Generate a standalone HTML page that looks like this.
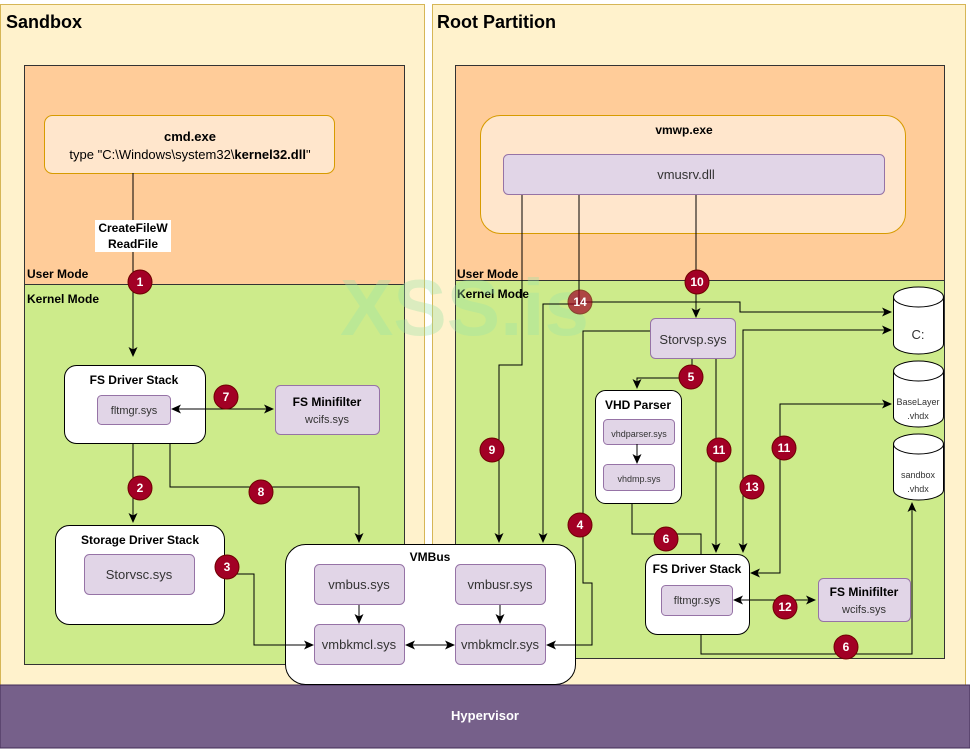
<!DOCTYPE html>
<html><head><meta charset="utf-8"><style>html,body{margin:0;padding:0;background:#fff}svg{display:block}</style></head>
<body>
<svg width="970" height="750" viewBox="0 0 970 750" xmlns="http://www.w3.org/2000/svg" font-family="Liberation Sans, Arial, sans-serif">
<defs>
<marker id="a" viewBox="0 0 10 10" refX="9" refY="5" markerWidth="10" markerHeight="10" markerUnits="userSpaceOnUse" orient="auto-start-reverse"><path d="M0,0.5 L10,5 L0,9.5 L2.5,5 z" fill="#000"/></marker>
</defs>
<rect x="0.5" y="4.5" width="424" height="681" fill="#fff2cc" stroke="#d6b656"/>
<rect x="432.5" y="4.5" width="533" height="681" fill="#fff2cc" stroke="#d6b656"/>
<text x="6" y="28" font-size="18" font-weight="bold">Sandbox</text>
<text x="437" y="28" font-size="18" font-weight="bold">Root Partition</text>
<rect x="24.5" y="65.5" width="380" height="219" fill="#ffcc99" stroke="#333"/>
<rect x="24.5" y="284.5" width="380" height="380" fill="#cdeb8b" stroke="#333"/>
<rect x="455.5" y="65.5" width="489" height="215" fill="#ffcc99" stroke="#333"/>
<rect x="455.5" y="280.5" width="489" height="378" fill="#cdeb8b" stroke="#333"/>
<g font-size="12" font-weight="bold">
<text x="27" y="278">User Mode</text><text x="27" y="303">Kernel Mode</text>
<text x="457" y="278">User Mode</text><text x="457" y="298">Kernel Mode</text>
</g>
<rect x="0" y="685" width="970" height="63" fill="#76608a" stroke="#432d57"/>
<text x="485" y="720" font-size="13" font-weight="bold" fill="#fff" text-anchor="middle">Hypervisor</text>
<text x="340" y="335" font-size="80" font-weight="bold" fill="#9be3a8" opacity="0.35">XSS.is</text>

<rect x="44.5" y="115.5" width="290" height="58" rx="8" fill="#ffe6cc" stroke="#d79b00"/>
<text x="190" y="141" font-size="13" font-weight="bold" text-anchor="middle">cmd.exe</text>
<text x="190" y="159" font-size="13" text-anchor="middle">type "C:\Windows\system32\<tspan font-weight="bold">kernel32.dll</tspan>"</text>

<rect x="285.5" y="544.5" width="290" height="140" rx="20" fill="#fff" stroke="#000"/>
<rect x="480.5" y="115.5" width="425" height="118" rx="20" fill="#ffe6cc" stroke="#d79b00"/>

<g stroke="#000" fill="none" stroke-width="1">
<path d="M133,173 V356" marker-end="url(#a)"/>
<path d="M133,443 V522" marker-end="url(#a)"/>
<path d="M170,443 V487 H359 V542" marker-end="url(#a)"/>
<path d="M194,574 H254 V645 H313" marker-end="url(#a)"/>
<path d="M359,604 V623" marker-end="url(#a)"/>
<path d="M406,645 H454" marker-start="url(#a)" marker-end="url(#a)"/>
<path d="M500,604 V623" marker-end="url(#a)"/>
<path d="M522,194 V365 H499 V542" marker-end="url(#a)"/>
<path d="M579,194 V304 H543 V542" marker-end="url(#a)"/>
<path d="M579,302 H740 V312 H891" marker-end="url(#a)"/>
<path d="M696,194 V317" marker-end="url(#a)"/>
<path d="M650,331 H583 V583 H592 V645 H547" marker-end="url(#a)"/>
<path d="M692,358 V378 H637 V388" marker-end="url(#a)"/>
<path d="M637,444 V463" marker-end="url(#a)"/>
<path d="M632,503 V534 H701 V554"/>
<path d="M716,358 V552" marker-end="url(#a)"/>
<path d="M743,552 V330 H891" marker-start="url(#a)" marker-end="url(#a)"/>
<path d="M891,404 H780 V573 H751" marker-start="url(#a)" marker-end="url(#a)"/>
<path d="M701,634 V654 H912 V503" marker-end="url(#a)"/>
</g>
<rect x="95" y="220" width="76" height="32" fill="#fff"/>
<text x="133" y="232" font-size="12" font-weight="bold" text-anchor="middle">CreateFileW</text>
<text x="133" y="248" font-size="12" font-weight="bold" text-anchor="middle">ReadFile</text>

<rect x="64.5" y="365.5" width="141" height="78" rx="12" fill="#fff" stroke="#000"/>
<text x="134" y="384" font-size="12" font-weight="bold" text-anchor="middle">FS Driver Stack</text>
<rect x="97.5" y="395.5" width="73" height="29" rx="4" fill="#e1d5e7" stroke="#9673a6"/>
<text x="134" y="414" font-size="11" text-anchor="middle" fill="#333">fltmgr.sys</text>
<rect x="275.5" y="385.5" width="104" height="49" rx="5" fill="#e1d5e7" stroke="#9673a6"/>
<text x="327" y="406" font-size="12" font-weight="bold" text-anchor="middle">FS Minifilter</text>
<text x="327" y="423" font-size="11" text-anchor="middle" fill="#333">wcifs.sys</text>
<rect x="55.5" y="525.5" width="169" height="99" rx="14" fill="#fff" stroke="#000"/>
<text x="140" y="544" font-size="12" font-weight="bold" text-anchor="middle">Storage Driver Stack</text>
<rect x="84.5" y="554.5" width="110" height="40" rx="5" fill="#e1d5e7" stroke="#9673a6"/>
<text x="139" y="579" font-size="13" text-anchor="middle" fill="#333">Storvsc.sys</text>

<text x="430" y="561" font-size="12" font-weight="bold" text-anchor="middle">VMBus</text>
<g fill="#e1d5e7" stroke="#9673a6">
<rect x="314.5" y="564.5" width="90" height="40" rx="5"/><rect x="455.5" y="564.5" width="90" height="40" rx="5"/>
<rect x="314.5" y="624.5" width="90" height="40" rx="5"/><rect x="455.5" y="624.5" width="90" height="40" rx="5"/>
</g>
<g font-size="13" text-anchor="middle" fill="#333">
<text x="359" y="589">vmbus.sys</text><text x="500" y="589">vmbusr.sys</text>
<text x="359" y="649">vmbkmcl.sys</text><text x="500" y="649">vmbkmclr.sys</text>
</g>

<text x="684" y="134" font-size="12" font-weight="bold" text-anchor="middle">vmwp.exe</text>
<rect x="503.5" y="154.5" width="381" height="40" rx="5" fill="#e1d5e7" stroke="#9673a6"/>
<text x="686" y="179" font-size="13" text-anchor="middle" fill="#333">vmusrv.dll</text>
<rect x="650.5" y="318.5" width="85" height="40" rx="5" fill="#e1d5e7" stroke="#9673a6"/>
<text x="693" y="344" font-size="13" text-anchor="middle" fill="#333">Storvsp.sys</text>
<rect x="595.5" y="390.5" width="86" height="113" rx="10" fill="#fff" stroke="#000"/>
<text x="638" y="409" font-size="12" font-weight="bold" text-anchor="middle">VHD Parser</text>
<rect x="603.5" y="419.5" width="71" height="25" rx="4" fill="#e1d5e7" stroke="#9673a6"/>
<text x="639" y="437" font-size="9" text-anchor="middle" fill="#333">vhdparser.sys</text>
<rect x="603.5" y="464.5" width="71" height="26" rx="4" fill="#e1d5e7" stroke="#9673a6"/>
<text x="639" y="482" font-size="9" text-anchor="middle" fill="#333">vhdmp.sys</text>
<path d="M637,444 V463" stroke="#000" fill="none" marker-end="url(#a)"/>
<rect x="645.5" y="554.5" width="104" height="80" rx="12" fill="#fff" stroke="#000"/>
<text x="697" y="573" font-size="12" font-weight="bold" text-anchor="middle">FS Driver Stack</text>
<rect x="661.5" y="585.5" width="71" height="30" rx="4" fill="#e1d5e7" stroke="#9673a6"/>
<text x="697" y="604" font-size="11" text-anchor="middle" fill="#333">fltmgr.sys</text>
<rect x="818.5" y="578.5" width="92" height="43" rx="5" fill="#e1d5e7" stroke="#9673a6"/>
<text x="864" y="596" font-size="12" font-weight="bold" text-anchor="middle">FS Minifilter</text>
<text x="864" y="613" font-size="11" text-anchor="middle" fill="#333">wcifs.sys</text>

<g stroke="#000" fill="none" stroke-width="1">
<path d="M172,409 H273" marker-start="url(#a)" marker-end="url(#a)"/>
<path d="M734,600 H815" marker-start="url(#a)" marker-end="url(#a)"/>
</g>

<g fill="#fff" stroke="#000">
<path d="M893.5,297 V344 A25,10 0 0 0 943.5,344 V297 A25,10 0 0 0 893.5,297 Z"/><path d="M893.5,297 A25,10 0 0 0 943.5,297" fill="none"/>
<path d="M893.5,371 V417 A25,10 0 0 0 943.5,417 V371 A25,10 0 0 0 893.5,371 Z"/><path d="M893.5,371 A25,10 0 0 0 943.5,371" fill="none"/>
<path d="M893.5,444 V490 A25,10 0 0 0 943.5,490 V444 A25,10 0 0 0 893.5,444 Z"/><path d="M893.5,444 A25,10 0 0 0 943.5,444" fill="none"/>
</g>
<g text-anchor="middle" fill="#333">
<text x="918" y="339" font-size="13">C:</text>
<text x="918" y="405" font-size="9">BaseLayer</text><text x="918" y="419" font-size="9">.vhdx</text>
<text x="918" y="478" font-size="9">sandbox</text><text x="918" y="492" font-size="9">.vhdx</text>
</g>

<g fill="#a20025" stroke="#6f0000">
<circle cx="140" cy="282" r="12"/><circle cx="140" cy="488" r="12"/><circle cx="227" cy="567" r="12"/>
<circle cx="226" cy="397" r="12"/><circle cx="261" cy="492" r="12"/>
<circle cx="580" cy="302" r="12" opacity="0.7"/><circle cx="697" cy="282" r="12"/><circle cx="691" cy="377" r="12"/>
<circle cx="492" cy="450" r="12"/><circle cx="580" cy="525" r="12"/><circle cx="666" cy="539" r="12"/>
<circle cx="719" cy="450" r="12"/><circle cx="784" cy="448" r="12"/><circle cx="752" cy="487" r="12"/>
<circle cx="785" cy="607" r="12"/><circle cx="846" cy="647" r="12"/>
</g>
<g fill="#fff" font-size="12" font-weight="bold" text-anchor="middle">
<text x="140" y="286">1</text><text x="140" y="492">2</text><text x="227" y="571">3</text>
<text x="226" y="401">7</text><text x="261" y="496">8</text>
<text x="580" y="306">14</text><text x="697" y="286">10</text><text x="691" y="381">5</text>
<text x="492" y="454">9</text><text x="580" y="529">4</text><text x="666" y="543">6</text>
<text x="719" y="454">11</text><text x="784" y="452">11</text><text x="752" y="491">13</text>
<text x="785" y="611">12</text><text x="846" y="651">6</text>
</g>
</svg>
</body></html>
